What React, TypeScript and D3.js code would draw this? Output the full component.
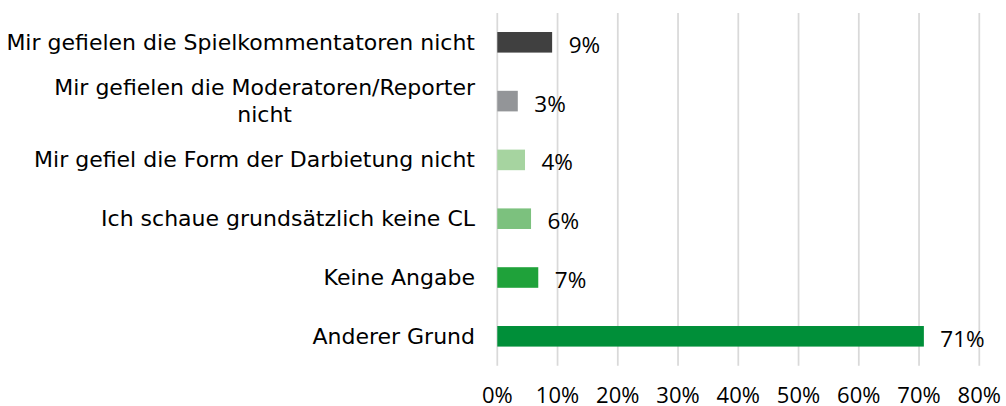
import React, { useEffect, useRef } from "react";
import * as d3 from "d3";

const categories: string[][] = [
  ["Mir gefielen die Spielkommentatoren nicht"],
  ["Mir gefielen die Moderatoren/Reporter", "nicht"],
  ["Mir gefiel die Form der Darbietung nicht"],
  ["Ich schaue grundsätzlich keine CL"],
  ["Keine Angabe"],
  ["Anderer Grund"],
];
const values: number[] = [9.1, 3.4, 4.6, 5.6, 6.8, 70.8];
const valueLabels: string[] = ["9%", "3%", "4%", "6%", "7%", "71%"];
const colors: string[] = ["#404040", "#939598", "#a6d4a0", "#7cc17e", "#1fa23a", "#008f39"];
const ticks: number[] = [0, 10, 20, 30, 40, 50, 60, 70, 80];

const W = 1006;
const H = 406;
const FONT_CAT = "'DejaVu Sans', sans-serif";
const FONT_NUM = "'Open Sans', sans-serif";

export default function App() {
  const ref = useRef<SVGSVGElement | null>(null);

  useEffect(() => {
    const svg = d3.select(ref.current);
    svg.selectAll("*").remove();

    const x = d3.scaleLinear().domain([0, 80]).range([497.3, 979.3]);
    const y = d3
      .scaleBand<number>()
      .domain(d3.range(categories.length))
      .range([12.9, 365.7])
      .paddingInner(0.65)
      .paddingOuter(0.325);

    svg
      .append("g")
      .selectAll("line")
      .data(ticks)
      .join("line")
      .attr("x1", (d) => x(d))
      .attr("x2", (d) => x(d))
      .attr("y1", 12.9)
      .attr("y2", 365.7)
      .attr("stroke", "#d9d9d9")
      .attr("stroke-width", 1.75);

    svg
      .append("g")
      .selectAll("text")
      .data(ticks)
      .join("text")
      .attr("x", (d) => x(d))
      .attr("y", 394)
      .attr("text-anchor", "middle")
      .attr("dominant-baseline", "central")
      .attr("font-family", FONT_NUM)
      .attr("font-size", 22)
      .attr("fill", "#000")
      .text((d) => `${d}%`);

    svg
      .append("g")
      .selectAll("rect")
      .data(values)
      .join("rect")
      .attr("x", x(0))
      .attr("y", (_, i) => y(i)!)
      .attr("width", (d) => x(d) - x(0))
      .attr("height", y.bandwidth())
      .attr("fill", (_, i) => colors[i]);

    svg
      .append("g")
      .selectAll("text")
      .data(values)
      .join("text")
      .attr("x", (d) => x(d) + 16.5)
      .attr("y", (_, i) => y(i)! + y.bandwidth() / 2 + 2)
      .attr("dominant-baseline", "central")
      .attr("font-family", FONT_NUM)
      .attr("font-size", 22.5)
      .attr("fill", "#000")
      .text((_, i) => valueLabels[i]);

    const right = 475;
    const lineH = 26.5;
    categories.forEach((lines, i) => {
      const cy = y(i)! + y.bandwidth() / 2;
      const n = lines.length;
      const g = svg.append("g");
      const texts = lines.map((ln, j) =>
        g
          .append("text")
          .attr("y", cy + (j - (n - 1) / 2) * lineH)
          .attr("dominant-baseline", "central")
          .attr("font-family", FONT_CAT)
          .attr("font-size", 22)
          .attr("fill", "#000")
          .text(ln)
      );
      const widths = texts.map((t) => (t.node() as SVGTextElement).getComputedTextLength());
      const maxW = Math.max(...widths);
      const center = right - maxW / 2;
      texts.forEach((t) => t.attr("x", center).attr("text-anchor", "middle"));
    });
  }, []);

  return (
    <svg
      ref={ref}
      width={W}
      height={H}
      style={{ position: "absolute", left: 0, top: 0, background: "#fff" }}
    />
  );
}
